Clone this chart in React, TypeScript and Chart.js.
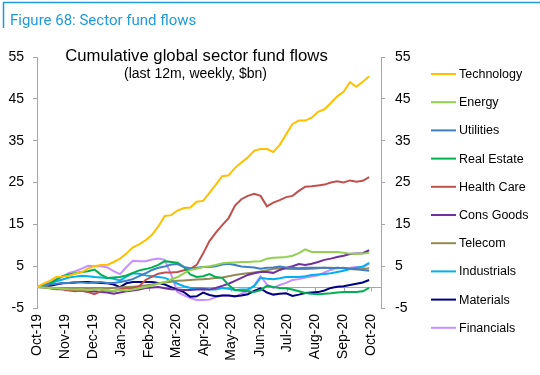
import React, { useEffect, useRef } from 'react';
import { Chart, registerables } from 'chart.js';

Chart.register(...registerables);

// ---------------- data ----------------
const seriesNames = ['Technology', 'Energy', 'Utilities', 'Real Estate', 'Health Care', 'Cons Goods', 'Telecom', 'Industrials', 'Materials', 'Financials'];
const seriesColors = ['#ffc000', '#92d050', '#3f7fc6', '#00b050', '#c0504d', '#7030a0', '#948a54', '#00b0f0', '#000080', '#c88fff'];

const monthLabels = ['Oct-19', 'Nov-19', 'Dec-19', 'Jan-20', 'Feb-20', 'Mar-20', 'Apr-20', 'May-20', 'Jun-20', 'Jul-20', 'Aug-20', 'Sep-20', 'Oct-20'];
const yTicks = [-5, 5, 15, 25, 35, 45, 55];

// weekly cumulative flows, $bn, from 1 Oct 2019
const technology = [0, 0.8, 1.5, 2.4, 2.5, 2.7, 3.2, 3.6, 4.4, 5.0, 5.3, 5.3, 6.0, 6.8, 8.0, 9.5, 10.2, 11.2, 12.5, 14.5, 17.0, 17.2, 18.3, 18.9, 19.0, 20.4, 20.6, 22.5, 24.5, 26.5, 26.7, 28.5, 29.8, 31.0, 32.6, 33.0, 33.0, 32.3, 34.0, 36.5, 39.0, 39.8, 39.8, 40.5, 41.9, 42.5, 44.0, 45.6, 46.7, 49.0, 47.9, 49.1, 50.4];
const energy = [0, -0.1, -0.2, -0.3, -0.4, -0.5, -0.6, -0.5, -0.7, -0.6, -0.5, -0.8, -0.9, -0.7, -0.8, -0.6, -0.3, 0, 0.4, 0.8, 1.2, 1.8, 2.4, 3.3, 4.1, 4.4, 4.8, 5.0, 5.3, 5.7, 5.8, 5.9, 6.0, 6.0, 6.1, 6.2, 6.8, 7.0, 7.1, 7.2, 7.5, 8.1, 9.0, 8.4, 8.4, 8.4, 8.4, 8.4, 8.2, 8.0, 7.9, 8.0, 8.2];
const utilities = [0, 0.3, 0.6, 0.8, 1.0, 1.0, 1.2, 1.1, 1.0, 1.1, 1.2, 1.0, 1.0, 1.2, 1.5, 1.9, 2.6, 3.3, 4.1, 4.6, 4.9, 5.4, 5.5, 4.8, 4.5, 4.6, 4.8, 4.8, 5.0, 5.4, 5.6, 5.3, 4.9, 4.8, 4.7, 4.4, 4.6, 4.7, 4.9, 4.7, 4.6, 4.5, 4.6, 4.6, 4.6, 4.6, 4.5, 4.6, 4.5, 4.4, 4.3, 4.1, 3.9];
const realEstate = [0, 0.2, 0.8, 1.8, 2.6, 3.0, 3.3, 3.6, 3.8, 4.2, 3.0, 2.2, 2.3, 2.4, 2.8, 3.4, 4.0, 4.3, 4.7, 5.3, 6.2, 6.0, 5.8, 4.8, 3.0, 2.4, 2.6, 3.1, 2.4, 2.2, 0.5, -0.7, -0.9, -1.0, -1.2, -0.7, 0.3, 0, -0.2, -0.3, -0.6, -1.0, -1.4, -1.6, -1.7, -1.6, -1.5, -1.3, -1.2, -1.2, -1.2, -1.0, -0.2];
const healthCare = [0, 0, -0.3, -0.5, -0.5, -0.8, -1.0, -0.8, -1.2, -1.7, -1.0, -0.8, -1.0, -0.5, -0.3, -0.2, 0.2, 1.7, 2.5, 3.2, 3.5, 3.5, 3.6, 4.0, 4.3, 5.3, 8.0, 11.0, 13.0, 14.8, 16.5, 19.5, 21.0, 21.8, 22.3, 21.8, 19.3, 20.2, 20.8, 21.5, 21.8, 23.0, 24.0, 24.1, 24.3, 24.5, 25.0, 25.3, 25.0, 25.5, 25.2, 25.4, 26.3];
const consGoods = [0, -0.1, -0.2, -0.4, -0.5, -0.6, -0.7, -0.9, -1.1, -1.0, -1.2, -1.3, -1.6, -1.3, -1.0, -0.8, -0.6, -0.2, -0.1, 0, -0.3, -0.5, -0.6, -0.7, -0.7, -0.6, -0.5, -0.6, -0.2, 0.3, 0.8, 1.5, 2.2, 2.9, 3.3, 3.6, 3.6, 3.4, 4.1, 4.6, 5.0, 5.5, 5.3, 5.6, 6.0, 6.5, 6.8, 7.2, 7.5, 7.9, 8.0, 8.1, 8.8];
const telecom = [0, 0, -0.1, -0.2, -0.2, -0.3, -0.3, -0.2, -0.3, -0.2, -0.2, -0.3, -0.2, -0.1, 0, 0.1, 0.2, 0.4, 0.6, 0.9, 1.1, 1.3, 1.5, 1.6, 1.7, 1.8, 1.9, 2.0, 2.2, 2.3, 2.6, 2.9, 3.1, 3.3, 3.5, 3.7, 4.0, 4.4, 4.5, 4.4, 4.3, 4.3, 4.3, 4.4, 4.5, 4.6, 4.6, 4.5, 4.6, 4.3, 4.2, 4.3, 4.5];
const industrials = [0, 0.4, 0.9, 1.4, 1.8, 2.3, 2.5, 2.7, 2.6, 2.4, 2.3, 2.2, 2.0, 1.6, 2.5, 3.3, 3.2, 2.8, 2.6, 2.4, 2.2, 1.6, 0.8, 0.2, -0.2, -0.2, -0.3, -0.6, -0.6, -0.2, -0.4, -0.7, -0.6, -0.5, 0.2, 2.2, 2.0, 1.9, 2.1, 2.4, 2.4, 2.4, 2.6, 2.9, 3.0, 3.1, 3.3, 3.6, 3.9, 4.3, 4.6, 4.9, 5.8];
const materials = [0, 0.1, 0.3, 0.6, 0.9, 1.0, 1.1, 1.2, 1.2, 1.1, 1.0, 0.9, 0.6, 0.0, 0.9, 1.2, 1.2, 1.2, 1.2, 1.0, 0.6, 0.0, -0.6, -1.2, -2.3, -2.2, -1.3, -1.9, -2.2, -2.0, -2.0, -2.2, -2.0, -1.7, -0.9, -0.3, -1.3, -1.8, -1.6, -1.5, -2.1, -1.8, -1.4, -1.3, -1.2, -0.8, -0.2, 0.1, 0.2, 0.5, 0.8, 1.1, 1.7];
const financials = [0, 0.6, 1.2, 1.8, 2.5, 3.4, 3.8, 4.4, 5.1, 5.0, 5.0, 4.7, 3.8, 3.1, 4.8, 6.3, 6.2, 6.2, 6.6, 6.8, 6.5, 3.0, -1.2, -2.0, -2.6, -3.1, -3.1, -3.0, -2.4, -2.0, -2.0, -2.3, -1.6, -0.9, 0.4, 2.6, 0.6, -0.2, 0.5, 1.0, 1.7, 1.9, 2.3, 2.5, 2.8, 3.5, 4.1, 4.6, 4.5, 4.6, 4.8, 4.7, 5.6];

const seriesValues = [technology, energy, utilities, realEstate, healthCare, consGoods, telecom, industrials, materials, financials];

// ---------------- helpers ----------------
const DAY = 86400000;
const startDate = Date.UTC(2019, 9, 1);
const monthDays = monthLabels.map((_, i) => (Date.UTC(2019, 9 + i, 1) - startDate) / DAY);

const FONT = '"Liberation Sans", Arial, Helvetica, sans-serif';
const AXIS_GREY = '#a6a6a6';

const decorPlugin = {
  id: 'decor',
  beforeDatasetsDraw(chart: any) {
    const { ctx, chartArea, scales } = chart;
    const y0 = Math.round(scales.y.getPixelForValue(0)) + 0.5;
    ctx.save();
    ctx.strokeStyle = AXIS_GREY;
    ctx.lineWidth = 1;
    ctx.beginPath();
    ctx.moveTo(chartArea.left, y0);
    ctx.lineTo(chartArea.right, y0);
    scales.x.ticks.forEach((t: any) => {
      const px = Math.round(scales.x.getPixelForValue(t.value)) + 0.5;
      ctx.moveTo(px, y0);
      ctx.lineTo(px, y0 + 4);
    });
    ctx.stroke();
    ctx.restore();
  },
  afterDraw(chart: any) {
    const { ctx } = chart;
    ctx.save();
    // header frame
    ctx.strokeStyle = '#1e9bd7';
    ctx.lineWidth = 1.5;
    ctx.beginPath();
    ctx.moveTo(3, 2.5);
    ctx.lineTo(540, 2.5);
    ctx.moveTo(3.5, 2);
    ctx.lineTo(3.5, 28);
    ctx.stroke();
    ctx.fillStyle = '#1e9bd7';
    ctx.font = '15px Roboto, "Liberation Sans", Arial, sans-serif';
    ctx.textAlign = 'left';
    ctx.textBaseline = 'alphabetic';
    ctx.fillText('Figure 68: Sector fund flows', 10, 25);

    // chart titles
    ctx.fillStyle = '#000';
    ctx.textAlign = 'center';
    ctx.font = `16.7px ${FONT}`;
    ctx.fillText('Cumulative global sector fund flows', 196.5, 61);
    ctx.font = `14px ${FONT}`;
    ctx.fillText('(last 12m, weekly, $bn)', 195.5, 78);

    // legend
    ctx.font = `12.5px ${FONT}`;
    ctx.textAlign = 'left';
    ctx.textBaseline = 'middle';
    chart.data.datasets.forEach((ds: any, i: number) => {
      const y = 74 + i * 28.2;
      ctx.strokeStyle = ds.borderColor;
      ctx.lineWidth = 2;
      ctx.beginPath();
      ctx.moveTo(431, y);
      ctx.lineTo(456, y);
      ctx.stroke();
      ctx.fillStyle = '#000';
      ctx.fillText(ds.label, 459, y + 0.5);
    });
    ctx.restore();
  },
};

export default function App() {
  const ref = useRef<HTMLCanvasElement>(null);

  useEffect(() => {
    document.body.style.margin = '0';
    const datasets = seriesNames.map((name, i) => ({
      label: name,
      data: seriesValues[i].map((v, w) => ({ x: w * 7, y: v })),
      borderColor: seriesColors[i],
      backgroundColor: seriesColors[i],
      borderWidth: 2,
      pointRadius: 0,
      tension: 0,
      fill: false,
    }));

    const yScale = (position: 'left' | 'right', width: number, padding: number) => ({
      type: 'linear' as const,
      position,
      min: -5,
      max: 55,
      afterBuildTicks: (s: any) => {
        s.ticks = yTicks.map((v) => ({ value: v }));
      },
      ticks: { padding, color: '#000', font: { size: 14, family: FONT } },
      grid: { drawOnChartArea: false, drawTicks: true, tickLength: 4, color: AXIS_GREY },
      border: { display: true, color: AXIS_GREY },
      afterFit: (s: any) => {
        s.width = width;
      },
    });

    const chart = new Chart(ref.current as HTMLCanvasElement, {
      type: 'line',
      data: { datasets },
      options: {
        animation: false,
        responsive: true,
        maintainAspectRatio: false,
        events: [],
        layout: { padding: { left: 0, top: 57, right: 119, bottom: 0 } },
        plugins: { legend: { display: false }, tooltip: { enabled: false } },
        scales: {
          x: {
            type: 'linear',
            min: 0,
            max: 377,
            afterBuildTicks: (s: any) => {
              s.ticks = monthDays.map((v) => ({ value: v }));
            },
            ticks: {
              autoSkip: false,
              minRotation: 90,
              maxRotation: 90,
              padding: 6,
              color: '#000',
              font: { size: 14, family: FONT },
              callback: (_v: any, i: number) => monthLabels[i],
            },
            grid: { display: false, drawTicks: false },
            border: { display: false },
            afterFit: (s: any) => {
              s.height = 67;
            },
          },
          y: yScale('left', 37, 9),
          y2: yScale('right', 40, 10),
        },
      },
      plugins: [decorPlugin],
    });
    return () => chart.destroy();
  }, []);

  return (
    <div style={{ width: 540, height: 375, position: 'relative' }}>
      <canvas ref={ref} />
    </div>
  );
}
